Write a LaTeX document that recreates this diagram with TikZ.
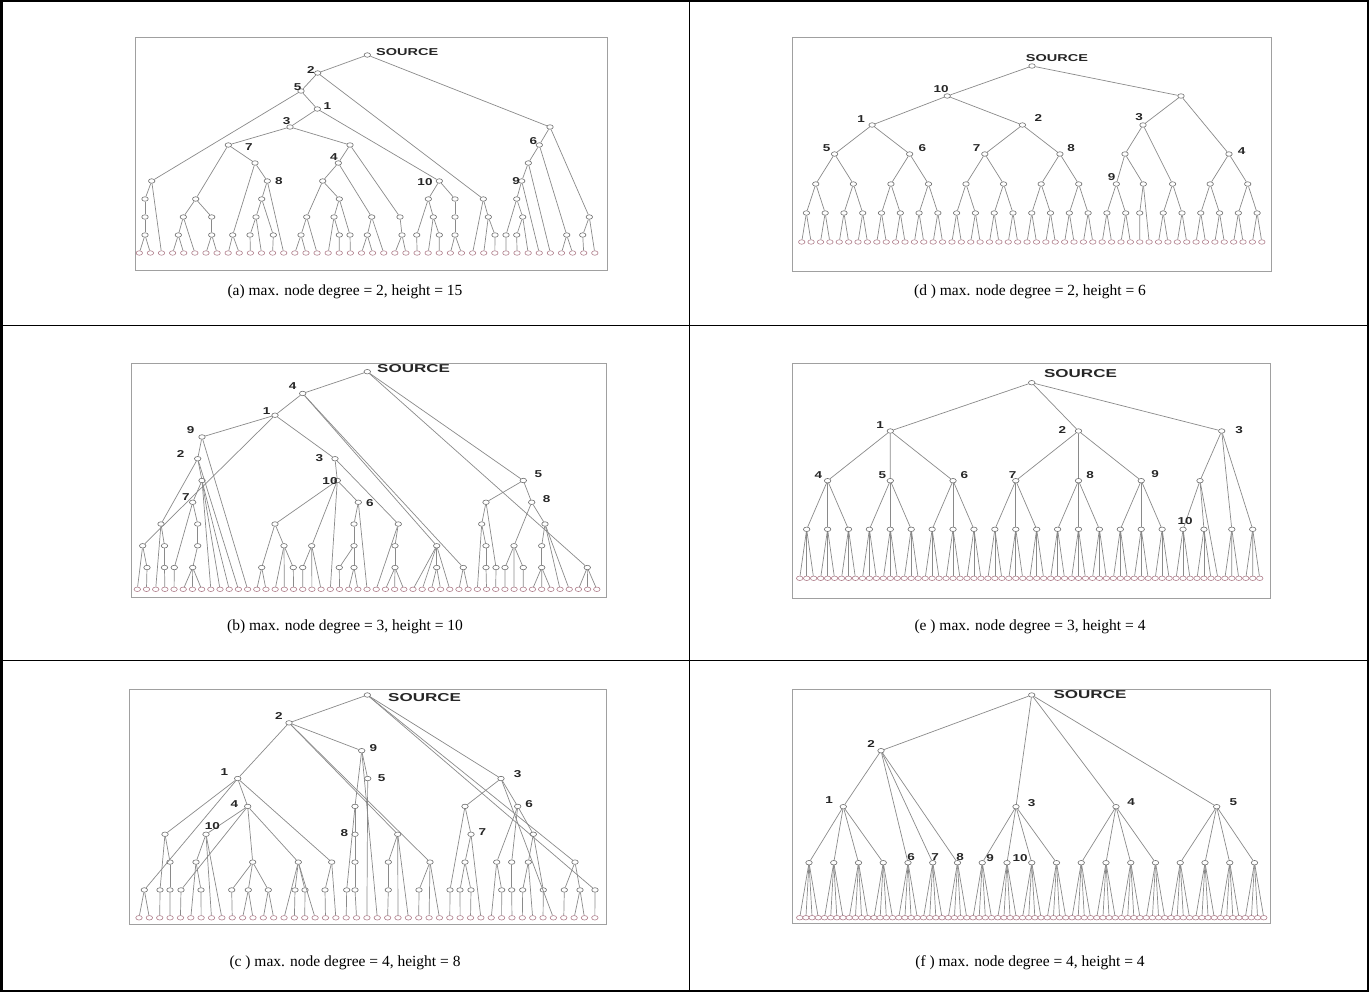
\documentclass[tikz,border=0pt]{standalone}
\usepackage{fontspec}
\setmainfont{Liberation Serif}
\newfontfamily\lsans{Liberation Sans}
\usepackage{graphicx}
\usetikzlibrary{shapes.geometric}
\definecolor{edgec}{HTML}{8A8A8A}
\definecolor{ndc}{HTML}{6E6E6E}
\definecolor{lfc}{HTML}{B07F8C}
\definecolor{boxc}{HTML}{A0A0A0}
\definecolor{labc}{HTML}{262626}
\tikzset{
 nd/.style={ellipse, draw=ndc, fill=white, line width=0.6pt, minimum width=6.5pt, minimum height=4.5pt, inner sep=0pt},
 lf/.style={nd, draw=lfc},
 edgeln/.style={draw=edgec, line width=0.7pt},
 lab/.style={font=\lsans\bfseries\fontsize{10}{10}\selectfont, text=labc, inner sep=0pt},
 labB/.style={font=\lsans\bfseries\fontsize{11.5}{12}\selectfont, text=labc, inner sep=0pt},
 captext/.style={font=\fontsize{15.5}{18}\selectfont, inner sep=0pt},
 tpanel/.style={draw=boxc, line width=0.8pt},
 tframe/.style={draw=black, line width=2.5pt},
 trule/.style={draw=black, line width=1.2pt}
}
\newcommand{\sx}[1]{\scalebox{1.35}[1]{#1}}
\begin{document}
\begin{tikzpicture}[x=1pt,y=-1pt]
\useasboundingbox (0,0) rectangle (1369,992);
% table
\draw[tframe] (1.25,1.25) rectangle (1367.75,990.75);
\draw[trule] (689.5,0) -- (689.5,992);
\draw[trule] (0,325.5) -- (1369,325.5);
\draw[trule] (0,660.5) -- (1369,660.5);
% panels
\draw[tpanel] (135,37) rectangle (607,270);
\draw[tpanel] (792,37) rectangle (1271,271);
\draw[tpanel] (131,363) rectangle (606,597);
\draw[tpanel] (792,363) rectangle (1270,598);
\draw[tpanel] (129,689) rectangle (606,924);
\draw[tpanel] (792,689) rectangle (1270,923);
% captions
\node[captext] (capA) at (345,292) {(a) max. node degree = 2, height = 15};
\node[captext] (capD) at (1030,292) {(d ) max. node degree = 2, height = 6};
\node[captext] (capB) at (345,627) {(b) max. node degree = 3, height = 10};
\node[captext] (capE) at (1030,627) {(e ) max. node degree = 3, height = 4};
\node[captext] (capC) at (345,963) {(c ) max. node degree = 4, height = 8};
\node[captext] (capF) at (1030,963) {(f ) max. node degree = 4, height = 4};

% ================= tree (a)
\foreach \i in {0,...,41} \node[lf] (aL\i) at ({139.3+11.11*\i},253) {};
\foreach \n/\x/\l in {S/367.3/0, n2/317.7/1, n5/301/2, n1/317.3/3, n3/290/4, R/550/4, A/228.3/5, B/350/5, n6/539.3/5, C/255/6, n4/338.3/6, V/528.3/6, P/151.7/7, n8/267.3/7, D/322.7/7, T/439.3/7, n9/521.7/7, E/195.7/8, F/145/8, G/261.7/8, H/339.3/8, M1/428.3/8, M2/455/8, Q/483.3/8, W/516.7/8, F9/145/9, E1/183.3/9, E2/211.7/9, G1/256/9, D1/306.7/9, H1/334/9, J/371.7/9, K/400/9, M1b/433.3/9, M2a/455/9, Q1/488.3/9, W2/522.7/9, Y/589.3/9, F10/145/10, E1a/178.3/10, E2a/211.7/10, C1/232.7/10, G1a/250/10, G2/273.3/10, D1a/301/10, H1a/339.3/10, H2/350/10, J1/367.3/10, K1/402/10, M1a/416.7/10, M1c/439.3/10, M2b/455/10, Q1a/495/10, W1/506/10, W2a/516.7/10, X6/566.7/10, Y1/582.7/10}
  \node[nd] (a\n) at ({\x},{55+18*\l}) {};
\foreach \p/\c in {S/n2, S/R, n2/n5, n2/Q, n5/n1, n5/P, n1/n3, n1/T, n3/A, n3/B, A/C, A/E, C/n8, C/C1, n8/G, n8/L13, G/G1, G/G2, G1/G1a, G1/L11, G1a/L10, G2/L12, E/E1, E/E2, E1/E1a, E1/L5, E1a/L3, E1a/L4, E2/E2a, E2a/L6, E2a/L7, C1/L8, C1/L9, P/F, P/L2, F/F9, F9/F10, F10/L0, F10/L1, B/n4, B/K, n4/D, n4/J, D/D1, D/H, D1/D1a, D1/L16, D1a/L14, D1a/L15, H/H1, H/H2, H1/L17, H1/H1a, H1a/L18, H2/L19, J/J1, J/L22, J1/L20, J1/L21, K/K1, K1/L23, K1/L24, T/M1, T/M2, M1/M1a, M1/M1b, M1a/L25, M1b/L26, M1b/M1c, M1c/L27, M2/M2a, M2a/M2b, M2b/L28, M2b/L29, Q/L30, Q/Q1, Q1/L31, Q1/Q1a, Q1a/L32, R/n6, R/Y, n6/V, n6/X6, X6/L38, X6/L39, V/n9, V/L37, n9/W, n9/L36, W/W1, W/W2, W1/L33, W2/W2a, W2/L35, W2a/L34, Y/Y1, Y/L41, Y1/L40}
  \draw[edgeln] (a\p) -- (a\c);
\node[lab, anchor=west] (aSrc) at (376,51.7) {\scalebox{1.45}[1]{SOURCE}};
\foreach \t/\x/\y [count=\k] in {2/311/70, 5/297.7/86.7, 1/327.3/106, 3/286.7/120.7, 7/249/147.3, 4/334/157.3, 8/279/180.7, 10/425/182.3, 9/516/180.7, 6/533.3/140.7}
  \node[lab] (aT\k) at (\x,\y) {\sx{\t}};

% ================= tree (b)
\foreach \i in {0,...,50} \node[lf] (bL\i) at ({137.3+9.19*\i},589.3) {};
\foreach \n/\x/\l in {S/367.3/0, n4/302.7/1, n1/275/2, n9/202/3, n2/197.7/4, n3/335/4, U/202/5, n10/337.3/5, n5/523.3/5, n7/192.7/6, n6/358.3/6, G6/486/6, n8/531.7/6, a1/161/7, a2/197.7/7, a3/275/7, a4/354/7, a5/398.3/7, g7/481.7/7, m7/545/7, b1/142.7/8, b2/164.5/8, b3/197.7/8, b4/284/8, b5/311.7/8, b6/354/8, b7/395/8, h8/436.7/8, g8/486/8, k8/514/8, m8/541.7/8, c1/147/9, c2/164.5/9, c3/174.3/9, c4/192.7/9, c5/261.7/9, c6/293.3/9, c7/302.7/9, c8/339.3/9, c9/354/9, c10/395/9, h9/436.7/9, Fq/463.3/9, g9/486/9, g9b/496/9, k9a/505/9, k9b/523.3/9, m9/541.7/9, Z/587.3/9}
  \node[nd] (b\n) at ({\x},{371.7+21.76*\l}) {};
\foreach \p/\c in {S/n4, S/n5, S/Z, n4/n1, n4/h8, n4/Fq, n1/n9, n1/n3, n1/b1, n9/n2, n9/L12, n2/U, n2/a1, n2/L11, U/n7, U/L8, U/L9, U/L10, n7/a2, n7/c3, c3/L4, a2/b3, b3/c4, c4/L5, c4/L6, c4/L7, a1/b2, a1/L2, b1/c1, b1/L0, c1/L1, b2/c2, c2/L3, n3/n10, n3/a5, n10/a3, n10/b5, n10/n6, n10/L21, a3/c5, a3/b4, c5/L13, c5/L14, b4/L15, b4/L16, b4/c6, c6/L17, b5/c7, c7/L18, b5/L19, b5/L20, n6/a4, a4/b6, b6/c8, c8/L22, b6/c9, c9/L23, c9/L24, n6/L25, a5/b7, b7/c10, c10/L27, c10/L28, c10/L29, a5/L26, h8/h9, h8/L30, h8/L31, h9/L32, h9/L33, h8/L34, Fq/L35, Fq/L36, n5/G6, n5/n8, G6/g7, G6/g9b, g7/L37, g7/g8, g8/g9, g9/L38, g9b/L39, n8/k8, n8/m7, k8/k9a, k9a/L40, k8/L41, k8/k9b, k9b/L42, m7/m8, m8/m9, m9/L43, m9/L44, m9/L45, m7/L46, m7/L47, Z/L48, Z/L49, Z/L50}
  \draw[edgeln] (b\p) -- (b\c);
\node[labB, anchor=west] (bSrc) at (377,368.3) {\scalebox{1.48}[1]{SOURCE}};
\foreach \t/\x/\y [count=\k] in {4/292.7/386, 1/266.7/410.7, 9/190.7/430, 2/180.7/454, 3/319.3/458.3, 10/330/480.7, 7/186/496.7, 6/370/503.3, 5/538.3/474, 8/546.7/499.3}
  \node[lab] (bT\k) at (\x,\y) {\sx{\t}};

% ================= tree (c)
\foreach \i in {0,...,44} \node[lf] (cL\i) at ({139+10.36*\i},917.8) {};
\foreach \n/\x/\l in {S/367.3/0, n2/289/1, n9/361.7/2, n1/237.7/3, n5/367.7/3, n3/501/3, n4/247.7/4, q/355/4, u4/465/4, n6/517.7/4, p5/165/5, n10/206/5, n8/355/5, r5/397.7/5, n7/471/5, v5/533.3/5, s1/170/6, s2/196/6, s3/252.7/6, s4/298.3/6, s5/331.7/6, s6/355/6, s7/388.3/6, y1/430/6, y2/465/6, y3/496.7/6, y4/511.7/6, y5/528.3/6, w6/575/6, t1/144.3/7, t2/160/7, t3/170/7, t4/181/7, t5/201/7, t6/231.7/7, t7/248.3/7, t8/268.3/7, t9/295/7, t10/305/7, t11/325/7, t12/346.7/7, t13/355/7, t15/388.3/7, z1/419/7, z2/450/7, z3/460/7, z4/471/7, z5/501.7/7, z6/511.7/7, z7/522.7/7, z8/543.3/7, z9/564.3/7, z10/580/7, w7/595/7}
  \node[nd] (c\n) at ({\x},{695+27.85*\l}) {};
\foreach \p/\c in {S/n2, S/n3, S/w6, S/w7, n2/n1, n2/n9, n2/r5, n2/y1, n9/n5, n9/q, n9/L23, n5/L22, q/n8, n8/s6, s6/t13, t13/L21, q/t12, t12/L20, n1/p5, n1/t1, n1/n4, n1/s5, n4/n10, n4/t4, n4/s3, n4/s4, p5/s1, s1/t3, t3/L3, p5/t2, t2/L2, t1/L0, t1/L1, n10/s2, n10/L7, n10/L8, s2/t5, t5/L6, s2/L5, t4/L4, s3/t6, t6/L9, s3/t7, t7/L10, t7/L11, s3/t8, t8/L12, t8/L13, s4/t9, s4/t10, s4/L14, s4/L17, t9/L15, t10/L16, s5/t11, t11/L18, s5/L19, r5/s7, s7/t15, t15/L24, r5/L25, r5/L26, y1/z1, z1/L27, y1/L28, y1/L29, n3/u4, n3/n6, n3/L40, u4/n7, u4/z2, z2/L30, n7/y2, y2/z3, z3/L31, y2/z4, z4/L32, n7/L33, n6/y3, n6/y4, n6/v5, y3/L34, y3/z5, z5/L35, y4/z6, z6/L36, v5/y5, y5/z7, z7/L37, y5/L38, v5/z8, z8/L39, w6/z9, z9/L41, w6/z10, z10/L42, z10/L43, w7/L44}
  \draw[edgeln] (c\p) -- (c\c);
\node[labB, anchor=west] (cSrc) at (388,697.3) {\scalebox{1.48}[1]{SOURCE}};
\foreach \t/\x/\y [count=\k] in {2/279/715.7, 9/373.3/748.3, 1/224.3/771.7, 5/381.7/777.7, 4/234.3/803.7, 10/212.3/825.7, 8/344.3/833.3, 3/517.7/774.3, 6/529/804, 7/482.3/832.3}
  \node[lab] (cT\k) at (\x,\y) {\sx{\t}};

% ================= tree (d)
\foreach \i in {0,...,49} \node[lf] (dL\i) at ({801.7+9.39*\i},242) {};
\foreach \g/\f in {5/0,6/8,7/16,8/24,4/42}{
  \node[nd] (d\g) at ({801.7+9.39*\f+32.865},154) {};
  \foreach \k in {0,1}{
    \node[nd] (d\g-\k) at ({801.7+9.39*\f+37.56*\k+14.085},184) {};
    \draw[edgeln] (d\g) -- (d\g-\k);
    \foreach \m in {0,1}{
      \node[nd] (d\g-\k\m) at ({801.7+9.39*\f+37.56*\k+18.78*\m+4.695},213) {};
      \draw[edgeln] (d\g-\k) -- (d\g-\k\m);
      \foreach \q in {0,1}{
        \pgfmathtruncatemacro\li{\f+4*\k+2*\m+\q}
        \draw[edgeln] (d\g-\k\m) -- (dL\li);
      }
    }
  }
}
\foreach \n/\x/\y in {S/1032/66, 10/947.2/96, R/1181/96, 1/872.1/125, 2/1022.4/125, 3/1143/125, c/1125/154, 9/1116.3/184, dd/1143.3/184, e/1172.6/184, 9a/1106.9/213, 9b/1125.7/213, dda/1139.7/213, ea/1163.2/213, eb/1182/213}
  \node[nd] (d\n) at (\x,\y) {};
\foreach \p/\c in {S/10, S/R, 10/1, 10/2, 1/5, 1/6, 2/7, 2/8, R/3, R/4, 3/c, 3/e, c/9, c/dd, 9/9a, 9/9b, 9a/L32, 9a/L33, 9b/L34, 9b/L35, dd/dda, dda/L36, dd/L37, e/ea, e/eb, ea/L38, ea/L39, eb/L40, eb/L41}
  \draw[edgeln] (d\p) -- (d\c);
\node[lab] (dSrc) at (1057,58.3) {\scalebox{1.45}[1]{SOURCE}};
\foreach \t/\x/\y [count=\k] in {10/941/89.3, 1/861/119.3, 2/1038.3/118.3, 5/826.7/148.3, 6/922.3/148.3, 7/976.7/148.3, 8/1071/148.3, 3/1139/117.3, 4/1241.7/150.7, 9/1111.7/177.3}
  \node[lab] (dT\k) at (\x,\y) {\sx{\t}};

% ================= tree (e)
\foreach \i in {0,...,66} \node[lf] (eL\i) at ({799.7+6.97*\i},578.3) {};
\foreach \j in {0,...,19}{
  \node[nd] (eJ\j) at ({806.67+20.91*\j},529.3) {};
  \foreach \t in {0,1,2}{
    \pgfmathtruncatemacro\li{3*\j+\t}
    \draw[edgeln] (eJ\j) -- (eL\li);
  }
}
\node[nd] (eJ20) at (1231.8,529.3) {};
\node[nd] (eJ21) at (1252.7,529.3) {};
\foreach \t in {61,62,63} \draw[edgeln] (eJ20) -- (eL\t);
\foreach \t in {64,65,66} \draw[edgeln] (eJ21) -- (eL\t);
\foreach \p/\j in {4/1,5/4,6/7,7/10,8/13,9/16}{
  \node[nd] (e\p) at ({806.67+20.91*\j},480.7) {};
  \foreach \t in {-1,0,1}{
    \pgfmathtruncatemacro\jj{\j+\t}
    \draw[edgeln] (e\p) -- (eJ\jj);
  }
}
\node[nd] (e3c) at (1200,480.7) {};
\node[nd] (e1) at (890.3,431) {};
\node[nd] (e2) at (1078.5,431) {};
\node[nd] (e3) at (1221.7,431) {};
\node[nd] (eS) at (1031.7,382.7) {};
\foreach \p/\c in {S/1, S/2, S/3, 1/4, 1/5, 1/6, 2/7, 2/8, 2/9, 3/3c, 3/J20, 3/J21, 3c/J18, 3c/J19, 3c/L60}
  \draw[edgeln] (e\p) -- (e\c);
\node[labB] (eSrc) at (1080.5,374) {\scalebox{1.48}[1]{SOURCE}};
\foreach \t/\x/\y [count=\k] in {1/880/425, 2/1062.3/430, 3/1239/430, 4/818.3/475, 5/882.3/475, 6/964.3/475, 7/1012.7/475, 8/1090/475, 9/1155/474, 10/1185/521}
  \node[lab] (eT\k) at (\x,\y) {\sx{\t}};

% ================= tree (f)
\foreach \i in {0,...,75} \node[lf] (fL\i) at ({799.72+6.1875*\i},917.7) {};
\foreach \j in {0,...,18}{
  \node[nd] (fJ\j) at ({809+24.75*\j},862.7) {};
  \foreach \t in {0,1,2,3}{
    \pgfmathtruncatemacro\li{4*\j+\t}
    \draw[edgeln] (fJ\j) -- (fL\li);
  }
}
\foreach \n/\x/\y in {S/1031.7/695, 2/881/750.7, 1/843.3/806.7, 3/1016/806.7, 4/1116/806.7, 5/1216.7/806.7}
  \node[nd] (f\n) at (\x,\y) {};
\foreach \p/\c in {S/2, S/3, S/4, S/5, 2/1, 2/J4, 2/J5, 2/J6, 1/J0, 1/J1, 1/J2, 1/J3, 3/J7, 3/J8, 3/J9, 3/J10, 4/J11, 4/J12, 4/J13, 4/J14, 5/J15, 5/J16, 5/J17, 5/J18}
  \draw[edgeln] (f\p) -- (f\c);
\node[labB] (fSrc) at (1090,694.3) {\scalebox{1.48}[1]{SOURCE}};
\foreach \t/\x/\y [count=\k] in {2/871/744.3, 1/829/800, 3/1031.7/803.3, 4/1131/802.3, 5/1233.3/802.3, 6/911/857.3, 7/935/857.3, 8/960/857.3, 9/990/858, 10/1020/858}
  \node[lab] (fT\k) at (\x,\y) {\sx{\t}};
\end{tikzpicture}
\end{document}
